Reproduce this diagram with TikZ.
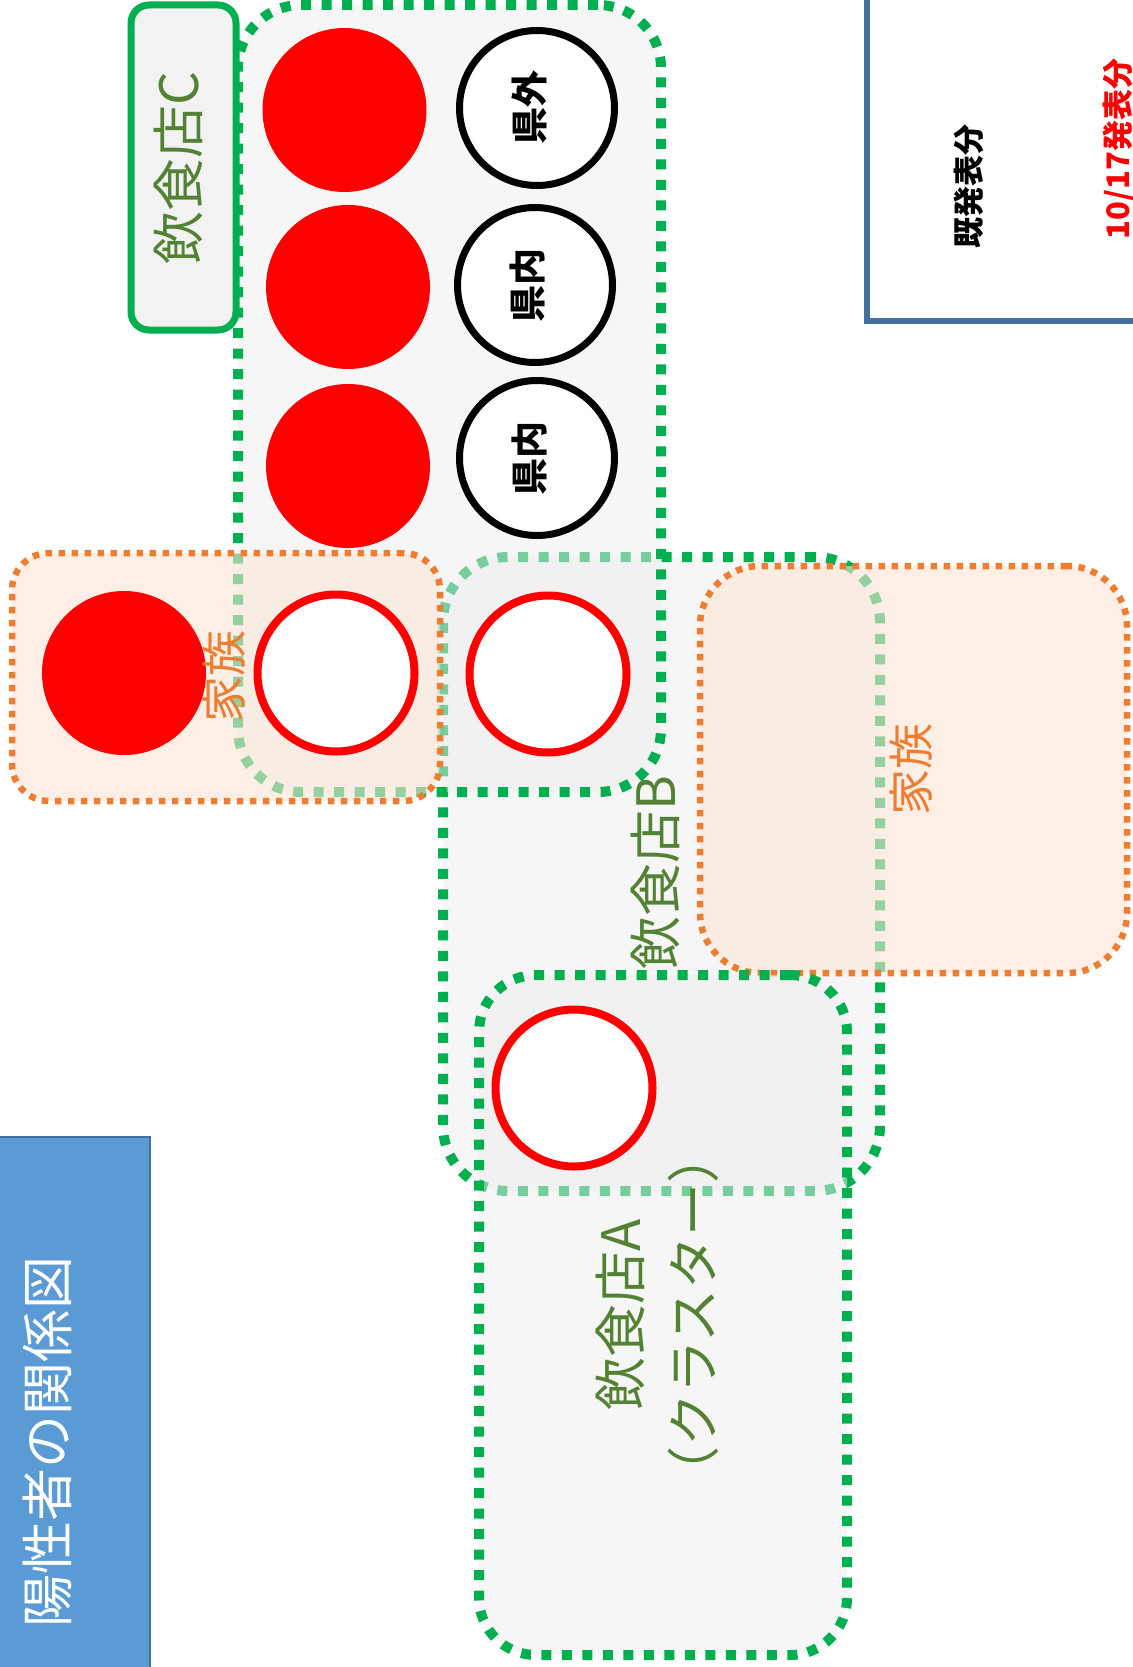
\documentclass[tikz,border=0pt]{standalone}
\usepackage{fontspec}
\newfontfamily\jp{Noto Sans CJK JP}
\definecolor{gborder}{HTML}{00B050}
\definecolor{gtext}{HTML}{548235}
\definecolor{orangeline}{HTML}{ED7D31}
\definecolor{ofill}{HTML}{FBE5D6}
\definecolor{boxfill}{HTML}{EDEDED}
\definecolor{steel}{HTML}{41719C}
\definecolor{titlefill}{HTML}{5B9BD5}
\definecolor{pptred}{HTML}{FF0000}
\definecolor{labelfill}{HTML}{F2F2F2}
\begin{document}
\begin{tikzpicture}[x=1pt,y=-1pt,
  every node/.style={inner sep=0pt, outer sep=0pt},
  shopbox/.style={rectangle, draw=gborder, line width=10pt, dash pattern=on 10pt off 10.5pt, fill=boxfill, fill opacity=0.5},
  familybox/.style={rectangle, draw=orangeline, line width=6.5pt, dash pattern=on 6.5pt off 6.5pt, fill=ofill, fill opacity=0.6},
  redfill/.style={circle, fill=pptred, minimum size=164pt},
  blackring/.style={circle, draw=black, line width=7pt, fill=white, minimum size=155pt},
  redring/.style={circle, draw=pptred, line width=8pt, fill=white, minimum size=157pt},
  shoplabel/.style={text=gtext, rotate=90, font=\jp\fontsize{53pt}{73pt}\selectfont, align=center},
  famlabel/.style={text=orangeline, rotate=90, font=\jp\fontsize{46pt}{55pt}\selectfont},
  placelabel/.style={text=black, rotate=90, font=\jp\bfseries\fontsize{37pt}{45pt}\selectfont},
  legendtext/.style={rotate=90, font=\jp\bfseries\fontsize{31pt}{38pt}\selectfont}
]
\useasboundingbox (0,0) rectangle (1132,1667);

% restaurant B (bottom layer)
\node[shopbox, minimum width=437pt, minimum height=634pt, rounded corners=65pt] (shopB) at (661.5,874) {};
% restaurant C
\node[shopbox, minimum width=423pt, minimum height=787pt, rounded corners=63pt] (shopC) at (449.5,398.5) {};
% label of C
\node[rectangle, draw=gborder, line width=7pt, fill=labelfill, minimum width=105pt, minimum height=325pt, rounded corners=18pt] (labelCbox) at (183.5,167.5) {};
% family boxes
\node[familybox, minimum width=428pt, minimum height=248pt, rounded corners=37pt] (famL) at (226,677) {};
\node[familybox, minimum width=427pt, minimum height=407pt, rounded corners=60pt] (famR) at (913.5,769.5) {};
% restaurant A
\node[shopbox, minimum width=368pt, minimum height=680pt, rounded corners=57pt] (shopA) at (663,1315) {};

% circles in C
\node[redfill] (c1) at (344.5,110) {};
\node[redfill] (c2) at (348,287) {};
\node[redfill] (c3) at (348,466) {};
\node[blackring] (p1) at (537,108) {};
\node[blackring] (p2) at (535,285) {};
\node[blackring] (p3) at (537,458) {};
\node[placelabel] (t1) at (529,108) {県外};
\node[placelabel] (t2) at (527,285) {県内};
\node[placelabel] (t3) at (529,458) {県内};

% family left circles
\node[redfill] (f1) at (124,673) {};
\node[redring] (f2) at (336,673) {};
% B circle
\node[redring] (b1) at (548,674) {};
% A circle
\node[redring] (a1) at (574,1088) {};

% labels
\node[shoplabel] (labelC) at (178,168) {飲食店C};
\node[shoplabel] (labelB) at (655,873) {飲食店B};
\node[shoplabel] (labelA) at (657,1315) {飲食店A\\（クラスター）};
\node[famlabel] (labelFL) at (224,676) {家族};
\node[famlabel] (labelFR) at (911,769) {家族};

% legend box top right
\node[rectangle, draw=steel, line width=6pt, minimum width=283pt, minimum height=342pt] (legend) at (1008.5,150) {};
\node[legendtext, text=black] (old) at (969,186) {既発表分};
\node[legendtext, text=pptred] (new) at (1119,149) {10/17発表分};

% title
\node[rectangle, fill=titlefill, draw=steel, line width=1.5pt, minimum width=152pt, minimum height=540pt] (titlebox) at (74,1407) {};
\node[text=white, rotate=90, font=\jp\fontsize{53pt}{60pt}\selectfont] (title) at (47,1442) {陽性者の関係図};
\end{tikzpicture}
\end{document}
